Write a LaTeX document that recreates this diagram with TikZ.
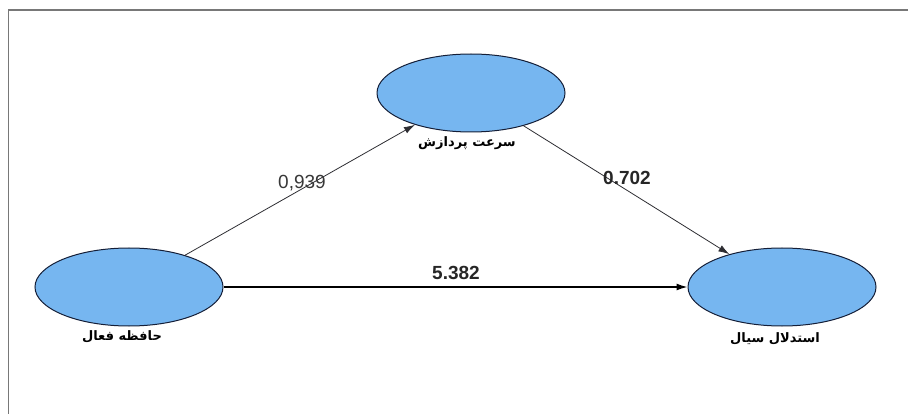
\documentclass[tikz,border=0pt]{standalone}
\usepackage{fontspec}
\setmainfont{Liberation Sans}
\newfontfamily\arabicfont[Script=Arabic]{DejaVu Sans}
\TeXXeTstate=1
\usetikzlibrary{shapes.geometric,arrows.meta}
\definecolor{latfill}{RGB}{118,182,240}
\definecolor{latdraw}{RGB}{20,30,55}
\definecolor{edgecol}{RGB}{45,45,50}
\definecolor{framecol}{RGB}{120,120,120}
\tikzset{
  latent/.style={ellipse, draw=latdraw, line width=1pt, fill=latfill, minimum width=188pt, minimum height=78pt, inner sep=0pt},
  varlabel/.style={font=\arabicfont\bfseries\fontsize{13}{14}\selectfont, text=black, inner sep=0pt},
  path/.style={draw=edgecol, line width=0.8pt, -{Latex[length=11pt,width=7pt]}},
  coef/.style={font=\fontsize{19}{19}\selectfont, text=black!85, inner sep=0pt}
}
\begin{document}
\begin{tikzpicture}[x=1pt,y=-1pt]
\useasboundingbox (0,0) rectangle (908,414);
\draw[framecol, line width=1.3pt] (8.5,414) -- (8.5,10) -- (908,10);
\node[latent] (sp) at (471,93) {};
\node[latent] (wm) at (129,287) {};
\node[latent] (fr) at (782,287) {};
\node[varlabel] (lsp) at (467,143) {\beginR سرعت پردازش\endR};
\node[varlabel] (lwm) at (122,337) {\beginR حافظه فعال\endR};
\node[varlabel] (lfr) at (775,339) {\beginR استدلال سیال\endR};
\draw[path] (wm) -- (sp);
\draw[path] (sp) -- (fr);
\draw[path, line width=1.4pt, draw=black] (wm) -- (fr);
\node[coef, text=black!78] (c1) at (302,183) {0,939};
\node[coef, font=\bfseries\fontsize{19}{19}\selectfont] (c2) at (627,178) {0.702};
\node[coef, font=\bfseries\fontsize{19}{19}\selectfont] (c3) at (456,273) {5.382};
\end{tikzpicture}
\end{document}
